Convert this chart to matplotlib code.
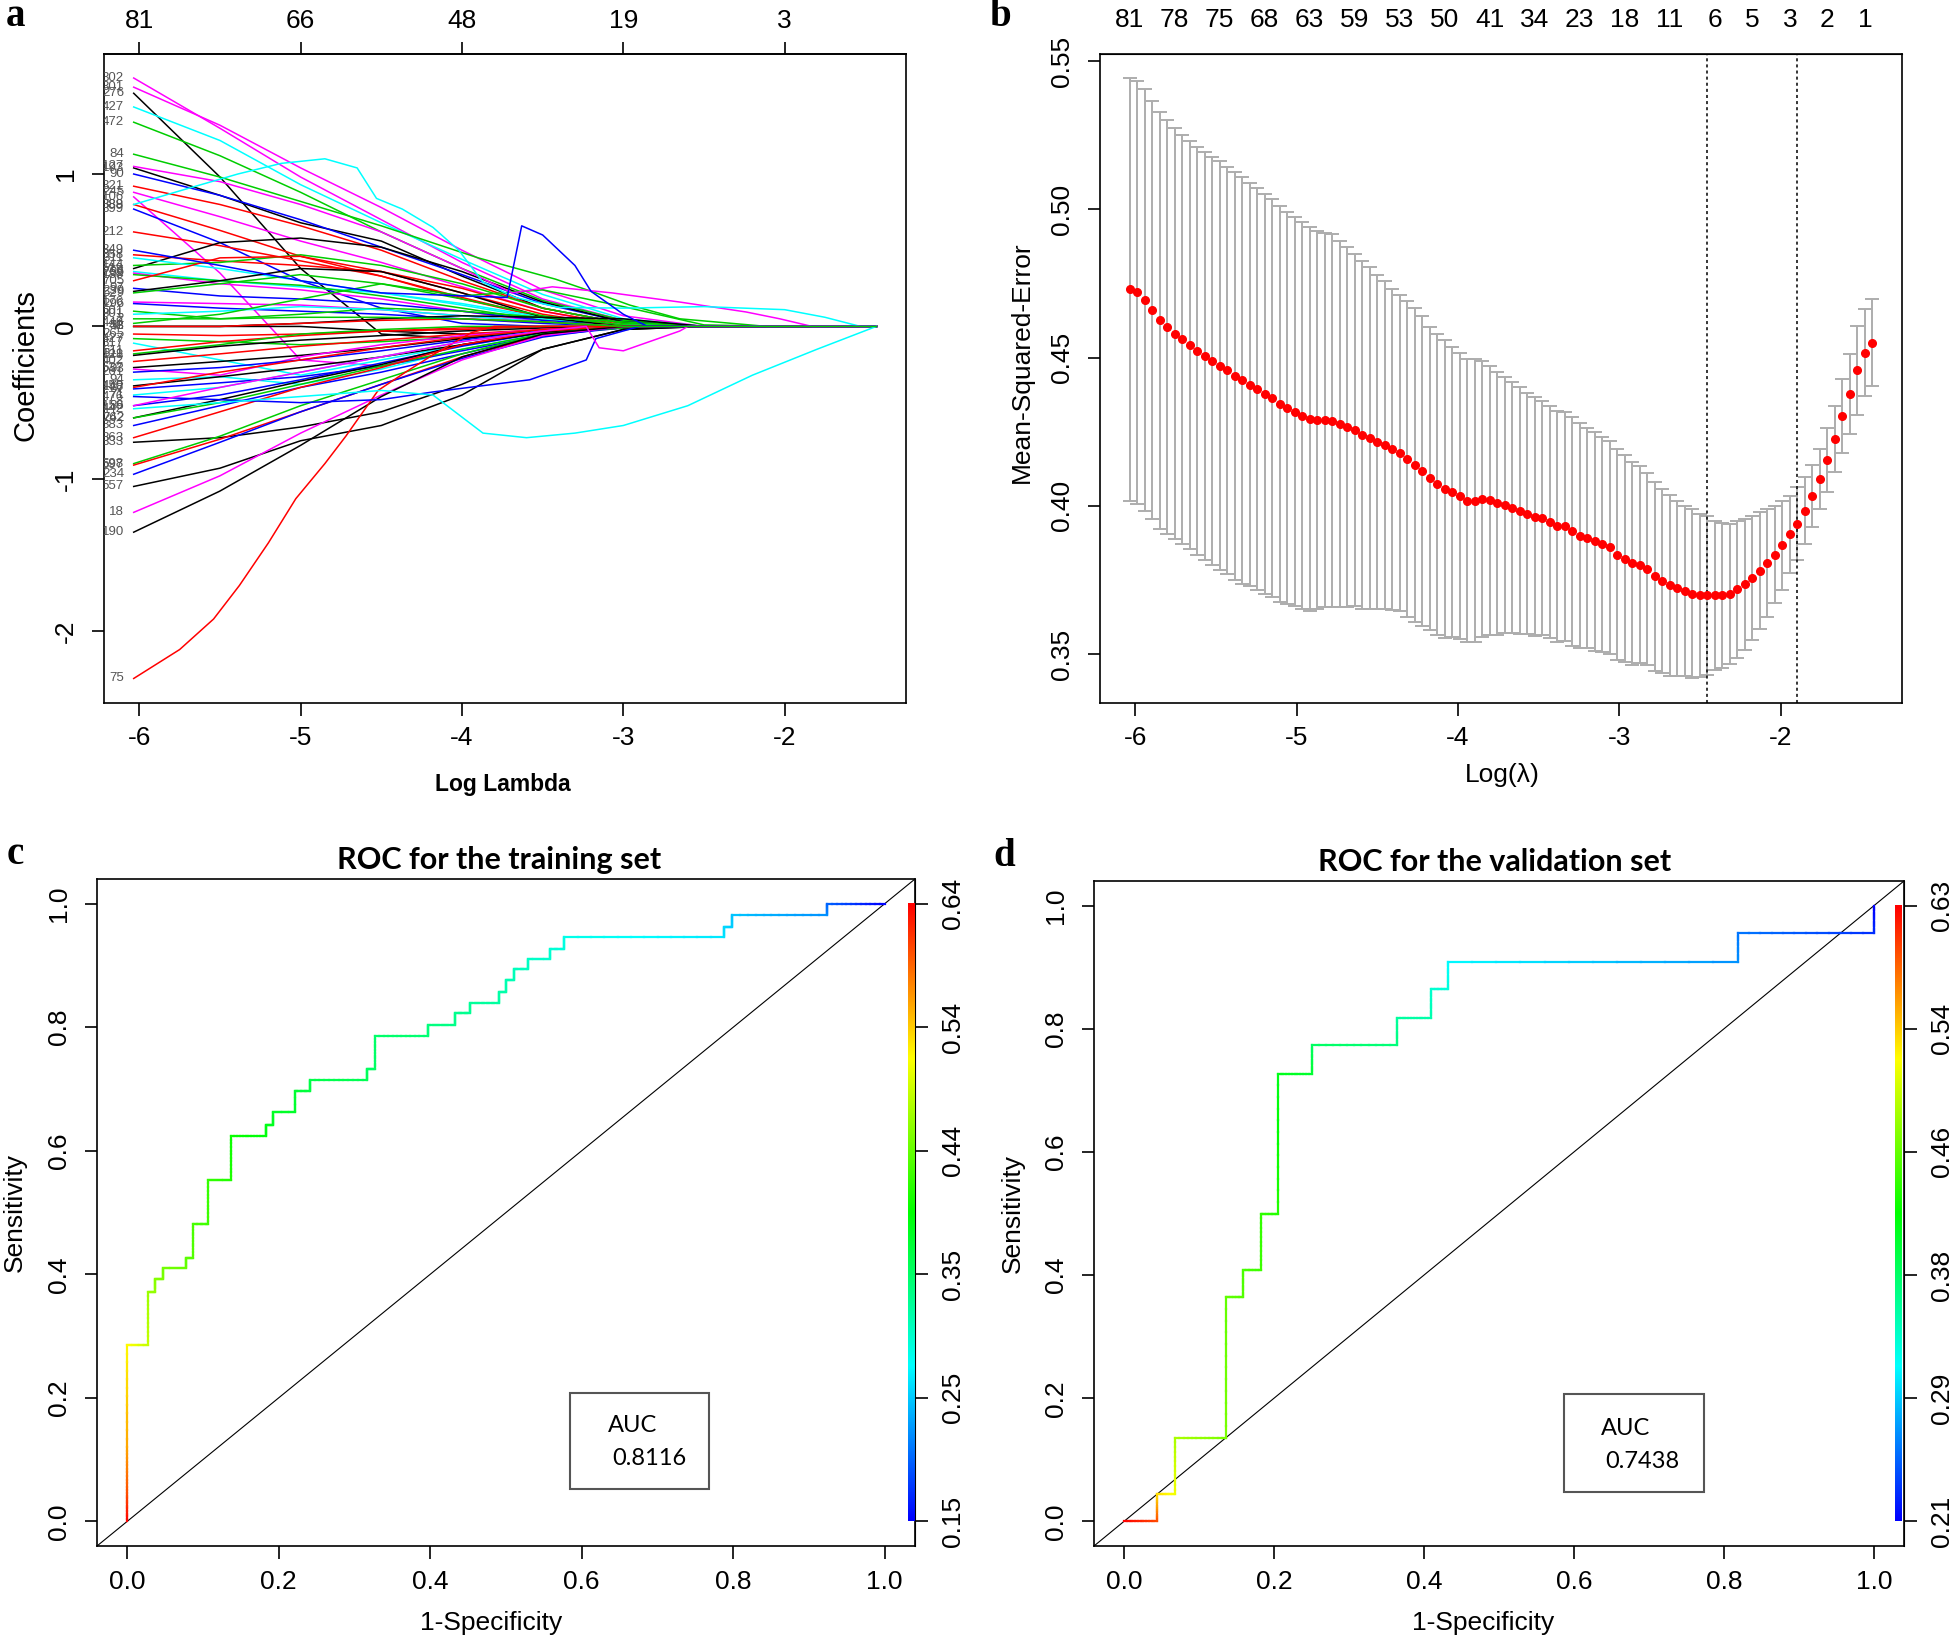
import numpy as np
import matplotlib
matplotlib.use("Agg")
import matplotlib.pyplot as plt
from matplotlib.collections import LineCollection
from matplotlib.colors import ListedColormap, Normalize, hsv_to_rgb
from matplotlib.patches import Rectangle

plt.rcParams['font.family'] = ['Liberation Sans', 'DejaVu Sans']
plt.rcParams['axes.unicode_minus'] = False

# ---------------- panel a: lasso coefficient paths ----------------
coef_knots = [-6.035, -5.5, -5.0, -4.5, -4.0, -3.5, -3.0, -2.5, -2.0, -1.432]
path_colors = ['m', 'm', 'k', 'c', 'g', 'k', 'b', 'r', 'm', 'm',
               'r', 'b', 'r', 'r', 'k', 'g', 'c', 'c', 'm', 'g',
               'r', 'b', 'k', 'g', 'm', 'b', 'g', 'c', 'g', 'k',
               'k', 'r', 'r', 'g', 'c', 'r', 'g', 'k', 'r', 'k',
               'm', 'b', 'c', 'k', 'r', 'b', 'c', 'b', 'k', 'g',
               'b', 'r', 'k', 'g', 'r', 'b', 'k', 'm', 'k']
path_labels = ['302', '301', '276', '427', '472', '193', '90', '321', '245', '106',
               '388', '399', '212', '358', '519', '144', '311', '766', '39', '188',
               '705', '97', '239', '629', '176', '296', '601', '301', '448', '33',
               '41', '58', '265', '427', '317', '611', '511', '128', '402', '537',
               '93', '261', '94', '450', '148', '67', '71', '86', '742', '262',
               '383', '363', '333', '598', '597', '234', '557', '18', '190']
path_values = [
    [1.63, 1.30, 0.98, 0.70, 0.42, 0.18, 0.04, 0, 0, 0],
    [1.57, 1.32, 1.04, 0.78, 0.50, 0.24, 0.07, 0, 0, 0],
    [1.53, 0.98, 0.38, -0.05, -0.08, -0.02, 0, 0, 0, 0],
    [1.44, 1.22, 0.93, 0.68, 0.44, 0.21, 0.05, 0, 0, 0],
    [1.34, 1.12, 0.88, 0.62, 0.38, 0.17, 0.04, 0, 0, 0],
    [1.04, 0.86, 0.68, 0.56, 0.33, 0.12, 0.02, 0, 0, 0],
    [1.00, 0.86, 0.70, 0.52, 0.34, 0.15, 0.03, 0, 0, 0],
    [0.92, 0.80, 0.66, 0.50, 0.30, 0.12, 0.02, 0, 0, 0],
    [0.88, 0.72, 0.56, 0.42, 0.26, 0.10, 0, 0, 0, 0],
    [0.85, 0.35, -0.22, -0.26, -0.12, -0.02, 0, 0, 0, 0],
    [0.80, 0.63, 0.46, 0.33, 0.18, 0.06, 0, 0, 0, 0],
    [0.77, 0.55, 0.30, 0.12, 0.02, 0, 0, 0, 0, 0],
    [0.62, 0.53, 0.43, 0.33, 0.19, 0.06, 0, 0, 0, 0],
    [0.47, 0.43, 0.40, 0.36, 0.25, 0.10, 0.01, 0, 0, 0],
    [0.38, 0.55, 0.58, 0.52, 0.36, 0.16, 0.03, 0, 0, 0],
    [0.40, 0.42, 0.47, 0.40, 0.28, 0.12, 0.02, 0, 0, 0],
    [0.45, 0.38, 0.30, 0.22, 0.15, 0.06, 0.01, 0, 0, 0],
    [0.36, 0.30, 0.26, 0.22, 0.14, 0.05, 0, 0, 0, 0],
    [0.35, 0.28, 0.24, 0.18, 0.10, 0.03, 0, 0, 0, 0],
    [0.34, 0.30, 0.27, 0.20, 0.12, 0.04, 0, 0, 0, 0],
    [0.30, 0.45, 0.46, 0.36, 0.22, 0.08, 0, 0, 0, 0],
    [0.25, 0.20, 0.18, 0.15, 0.10, 0.04, 0, 0, 0, 0],
    [0.23, 0.30, 0.38, 0.36, 0.22, 0.06, 0, 0, 0, 0],
    [0.22, 0.28, 0.34, 0.28, 0.18, 0.07, 0.01, 0, 0, 0],
    [0.16, 0.15, 0.14, 0.11, 0.07, 0.03, 0, 0, 0, 0],
    [0.15, 0.12, 0.10, 0.08, 0.05, 0.02, 0, 0, 0, 0],
    [0.10, 0.05, 0.08, 0.12, 0.10, 0.06, 0.03, 0, 0, 0],
    [0.08, 0.10, 0.13, 0.11, 0.07, 0.03, 0, 0, 0, 0],
    [0.02, 0.08, 0.18, 0.28, 0.20, 0.24, 0.13, 0.01, 0, 0],
    [0, 0, 0.02, 0.05, 0.07, 0.06, 0.05, 0, 0, 0],
    [0, 0, 0, -0.03, -0.05, -0.03, 0, 0, 0, 0],
    [0, 0, 0.02, 0.04, 0.05, 0.03, 0, 0, 0, 0],
    [-0.05, -0.06, -0.05, -0.03, -0.02, 0, 0, 0, 0, 0],
    [-0.08, -0.10, -0.12, -0.10, -0.07, -0.03, 0, 0, 0, 0],
    [-0.11, -0.22, -0.32, -0.22, -0.12, -0.04, 0, 0, 0, 0],
    [-0.16, -0.10, -0.06, -0.03, -0.01, 0, 0, 0, 0, 0],
    [-0.18, -0.12, -0.05, -0.02, 0, 0, 0, 0, 0, 0],
    [-0.19, -0.13, -0.09, -0.06, -0.03, -0.01, 0, 0, 0, 0],
    [-0.23, -0.18, -0.13, -0.09, -0.05, -0.02, 0, 0, 0, 0],
    [-0.27, -0.23, -0.19, -0.14, -0.08, -0.03, 0, 0, 0, 0],
    [-0.28, -0.32, -0.20, -0.12, -0.06, -0.02, 0, 0, 0, 0],
    [-0.30, -0.27, -0.22, -0.16, -0.09, -0.03, 0, 0, 0, 0],
    [-0.35, -0.33, -0.38, -0.28, -0.15, -0.05, 0, 0, 0, 0],
    [-0.39, -0.33, -0.27, -0.20, -0.12, -0.04, -0.01, 0, 0, 0],
    [-0.40, -0.30, -0.22, -0.14, -0.07, -0.02, 0, 0, 0, 0],
    [-0.41, -0.37, -0.33, -0.26, -0.16, -0.06, -0.01, 0, 0, 0],
    [-0.45, -0.40, -0.30, -0.20, -0.10, -0.03, 0, 0, 0, 0],
    [-0.52, -0.45, -0.35, -0.24, -0.13, -0.04, 0, 0, 0, 0],
    [-0.60, -0.48, -0.36, -0.25, -0.12, -0.04, 0, 0, 0, 0],
    [-0.60, -0.50, -0.38, -0.26, -0.15, -0.05, -0.01, 0, 0, 0],
    [-0.65, -0.52, -0.40, -0.30, -0.18, -0.06, 0, 0, 0, 0],
    [-0.73, -0.56, -0.40, -0.27, -0.12, -0.03, 0, 0, 0, 0],
    [-0.76, -0.73, -0.66, -0.56, -0.38, -0.15, -0.02, 0, 0, 0],
    [-0.90, -0.72, -0.52, -0.35, -0.18, -0.05, 0, 0, 0, 0],
    [-0.91, -0.74, -0.56, -0.38, -0.20, -0.06, 0, 0, 0, 0],
    [-0.97, -0.76, -0.56, -0.38, -0.21, -0.07, 0, 0, 0, 0],
    [-1.05, -0.93, -0.75, -0.65, -0.45, -0.15, -0.02, 0, 0, 0],
    [-1.22, -0.98, -0.70, -0.45, -0.22, -0.06, 0, 0, 0, 0],
    [-1.35, -1.08, -0.78, -0.46, -0.20, -0.05, 0, 0, 0, 0],
]

# paths with their own breakpoints
red75_x = [-6.035, -5.75, -5.54, -5.38, -5.2, -5.03, -4.85, -4.72, -4.52, -4.35, -4.17, -3.94, -3.8, -1.432]
red75_y = [-2.31, -2.12, -1.92, -1.70, -1.42, -1.13, -0.90, -0.72, -0.42, -0.30, -0.18, -0.04, 0.0, 0.0]
green84_x = [-6.035, -5.5, -5.0, -4.5, -3.9, -3.42, -3.17, -2.96, -2.65, -2.11, -1.432]
green84_y = [1.13, 0.98, 0.82, 0.66, 0.45, 0.31, 0.22, 0.14, 0.05, 0.0, 0.0]
magenta_x = [-6.035, -5.5, -5.0, -4.5, -4.0, -3.69, -3.44, -3.07, -2.65, -2.24, -2.03, -1.83, -1.432]
magenta_y = [1.05, 0.95, 0.80, 0.62, 0.38, 0.22, 0.26, 0.22, 0.16, 0.095, 0.05, 0.0, 0.0]
cyan_hi_x = [-6.035, -5.7, -5.39, -5.12, -4.85, -4.65, -4.53, -4.37, -4.18, -4.02, -3.87,
             -3.67, -3.40, -3.0, -2.5, -2.0, -1.75, -1.53, -1.432]
cyan_hi_y = [0.80, 0.905, 1.0, 1.07, 1.10, 1.04, 0.84, 0.77, 0.65, 0.50, 0.29,
             0.19, 0.125, 0.12, 0.13, 0.11, 0.06, 0.0, 0.0]
blue_spike_x = [-6.035, -5.5, -5.0, -4.5, -3.72, -3.63, -3.5, -3.3, -3.2, -3.0, -2.85, -1.432]
blue_spike_y = [0.50, 0.40, 0.30, 0.22, 0.19, 0.66, 0.60, 0.40, 0.23, 0.08, 0.0, 0.0]
blue_low_x = [-6.035, -5.0, -4.5, -4.18, -3.58, -3.23, -3.17, -2.9, -1.432]
blue_low_y = [-0.46, -0.50, -0.48, -0.43, -0.35, -0.22, -0.08, 0.0, 0.0]
magenta_dip_x = [-6.035, -5.5, -5.0, -4.5, -4.0, -3.5, -3.23, -3.15, -3.0, -2.65, -2.6, -1.432]
magenta_dip_y = [-0.52, -0.40, -0.30, -0.20, -0.10, -0.03, 0.0, -0.14, -0.16, -0.03, 0.0, 0.0]
cyan_low_x = [-6.035, -5.5, -5.0, -4.5, -4.18, -3.87, -3.6, -3.3, -3.0, -2.6, -2.2, -1.8, -1.432]
cyan_low_y = [-0.54, -0.50, -0.46, -0.42, -0.45, -0.70, -0.73, -0.70, -0.65, -0.52, -0.32, -0.15, 0.0]
green_last_y = [0.05, 0.05, 0.06, 0.06, 0.05, 0.03, 0.0, 0, 0, 0]

coef_top_pos = [-6, -5, -4, -3, -2]
coef_top_nz = ['81', '66', '48', '19', '3']

# ---------------- panel b: cross-validation curve ----------------
log_lambda = [
    -6.035, -5.989, -5.942, -5.896, -5.849, -5.803, -5.756, -5.710, -5.663, -5.617,
    -5.570, -5.524, -5.477, -5.431, -5.384, -5.338, -5.291, -5.245, -5.198, -5.152,
    -5.105, -5.059, -5.012, -4.966, -4.919, -4.873, -4.826, -4.780, -4.733, -4.687,
    -4.640, -4.594, -4.547, -4.501, -4.454, -4.408, -4.361, -4.315, -4.268, -4.222,
    -4.175, -4.129, -4.082, -4.036, -3.989, -3.943, -3.896, -3.850, -3.803, -3.757,
    -3.710, -3.664, -3.617, -3.571, -3.524, -3.478, -3.431, -3.385, -3.338, -3.292,
    -3.245, -3.199, -3.152, -3.106, -3.059, -3.013, -2.966, -2.920, -2.873, -2.827,
    -2.780, -2.734, -2.687, -2.641, -2.594, -2.548, -2.501, -2.455, -2.408, -2.362,
    -2.315, -2.269, -2.222, -2.176, -2.129, -2.083, -2.036, -1.990, -1.943, -1.897,
    -1.850, -1.804, -1.757, -1.711, -1.664, -1.618, -1.571, -1.525, -1.478, -1.432]
cv_mse = [
    0.4730, 0.4720, 0.4694, 0.4660, 0.4626, 0.4602, 0.4581, 0.4562, 0.4543, 0.4523,
    0.4507, 0.4489, 0.4473, 0.4457, 0.4438, 0.4423, 0.4409, 0.4394, 0.4378, 0.4364,
    0.4344, 0.4330, 0.4318, 0.4304, 0.4294, 0.4290, 0.4290, 0.4288, 0.4276, 0.4265,
    0.4255, 0.4240, 0.4229, 0.4216, 0.4205, 0.4191, 0.4177, 0.4157, 0.4137, 0.4117,
    0.4093, 0.4073, 0.4057, 0.4048, 0.4033, 0.4018, 0.4018, 0.4023, 0.4019, 0.4009,
    0.4004, 0.3994, 0.3984, 0.3974, 0.3964, 0.3960, 0.3945, 0.3931, 0.3931, 0.3914,
    0.3900, 0.3891, 0.3880, 0.3870, 0.3860, 0.3836, 0.3821, 0.3806, 0.3802, 0.3787,
    0.3762, 0.3747, 0.3733, 0.3723, 0.3713, 0.3703, 0.3699, 0.3699, 0.3699, 0.3699,
    0.3703, 0.3719, 0.3736, 0.3757, 0.3782, 0.3806, 0.3836, 0.3867, 0.3904, 0.3940,
    0.3984, 0.4033, 0.4091, 0.4155, 0.4226, 0.4304, 0.4378, 0.4457, 0.4517, 0.4551]
cv_sd = [
    0.0713, 0.0712, 0.0711, 0.0705, 0.0704, 0.0698, 0.0693, 0.0690, 0.0689, 0.0689,
    0.0688, 0.0688, 0.0689, 0.0687, 0.0689, 0.0686, 0.0680, 0.0678, 0.0675, 0.0671,
    0.0669, 0.0662, 0.0656, 0.0653, 0.0647, 0.0638, 0.0631, 0.0628, 0.0617, 0.0607,
    0.0593, 0.0586, 0.0575, 0.0562, 0.0553, 0.0542, 0.0533, 0.0533, 0.0529, 0.0523,
    0.0512, 0.0508, 0.0503, 0.0489, 0.0483, 0.0478, 0.0476, 0.0466, 0.0453, 0.0444,
    0.0431, 0.0424, 0.0417, 0.0407, 0.0403, 0.0394, 0.0392, 0.0390, 0.0387, 0.0385,
    0.0380, 0.0371, 0.0368, 0.0363, 0.0359, 0.0355, 0.0349, 0.0342, 0.0332, 0.0323,
    0.0320, 0.0309, 0.0305, 0.0295, 0.0285, 0.0285, 0.0275, 0.0268, 0.0251, 0.0244,
    0.0237, 0.0231, 0.0221, 0.0210, 0.0196, 0.0182, 0.0163, 0.0149, 0.0131, 0.0123,
    0.0112, 0.0104, 0.0100, 0.0107, 0.0112, 0.0124, 0.0135, 0.0149, 0.0148, 0.0148]
nz_idx = [0, 6, 12, 18, 24, 30, 36, 42, 48, 54, 60, 66, 72, 78, 83, 88, 93, 98]
nz_labels = ['81', '78', '75', '68', '63', '59', '53', '50', '41', '34',
             '23', '18', '11', '6', '5', '3', '2', '1']
idx_min = 77
idx_1se = 89

# ---------------- panels c/d: ROC curves ----------------
train_fpr = [0, 0, 0, 0, 0.027, 0.027, 0.037, 0.037, 0.047, 0.047, 0.077, 0.077,
             0.087, 0.087, 0.107, 0.107, 0.137, 0.137, 0.183, 0.183, 0.193, 0.193,
             0.221, 0.221, 0.241, 0.241, 0.317, 0.317, 0.327, 0.327, 0.397, 0.397,
             0.433, 0.433, 0.452, 0.452, 0.491, 0.491, 0.500, 0.500, 0.510, 0.510,
             0.529, 0.529, 0.558, 0.558, 0.577, 0.577, 0.788, 0.788, 0.798, 0.798,
             0.924, 0.924, 1.0]
train_tpr = [0, 0.05, 0.12, 0.285, 0.285, 0.372, 0.372, 0.392, 0.392, 0.41, 0.41, 0.427,
             0.427, 0.481, 0.481, 0.553, 0.553, 0.624, 0.624, 0.642, 0.642, 0.662,
             0.662, 0.696, 0.696, 0.714, 0.714, 0.732, 0.732, 0.785, 0.785, 0.803,
             0.803, 0.823, 0.823, 0.839, 0.839, 0.857, 0.857, 0.877, 0.877, 0.894,
             0.894, 0.910, 0.910, 0.927, 0.927, 0.946, 0.946, 0.963, 0.963, 0.981,
             0.981, 1.0, 1.0]
train_cut = [0.64, 0.60, 0.56, 0.52, 0.49, 0.47, 0.465, 0.46, 0.455, 0.45, 0.445, 0.44,
             0.435, 0.43, 0.425, 0.42, 0.41, 0.40, 0.39, 0.385, 0.38, 0.378,
             0.375, 0.37, 0.365, 0.36, 0.355, 0.35, 0.348, 0.345, 0.34, 0.335,
             0.33, 0.328, 0.325, 0.322, 0.318, 0.315, 0.313, 0.31, 0.308, 0.305,
             0.303, 0.30, 0.297, 0.294, 0.29, 0.285, 0.26, 0.255, 0.25, 0.245,
             0.22, 0.20, 0.15]
train_cut_labels = ['0.15', '0.25', '0.35', '0.44', '0.54', '0.64']
train_auc = '0.8116'

valid_fpr = [0, 0.044, 0.044, 0.068, 0.068, 0.136, 0.136, 0.159, 0.159, 0.182, 0.182,
             0.205, 0.205, 0.250, 0.250, 0.364, 0.364, 0.409, 0.409, 0.432, 0.432,
             0.818, 0.818, 1.0, 1.0]
valid_tpr = [0, 0, 0.044, 0.044, 0.136, 0.136, 0.364, 0.364, 0.409, 0.409, 0.500,
             0.500, 0.727, 0.727, 0.773, 0.773, 0.818, 0.818, 0.864, 0.864, 0.909,
             0.909, 0.955, 0.955, 1.0]
valid_cut = [0.63, 0.60, 0.54, 0.52, 0.49, 0.47, 0.46, 0.455, 0.45, 0.445, 0.44,
             0.435, 0.41, 0.40, 0.38, 0.37, 0.355, 0.35, 0.335, 0.33, 0.315,
             0.27, 0.26, 0.23, 0.21]
valid_cut_labels = ['0.21', '0.29', '0.38', '0.46', '0.54', '0.63']
valid_auc = '0.7438'

# ---------------- style ----------------
R_COL = {'k': '#000000', 'r': '#FF0000', 'g': '#00CD00', 'b': '#0000FF',
         'c': '#00FFFF', 'm': '#FF00FF'}
FS = 19
W, H = 1960, 1645

fig = plt.figure(figsize=(W / 100, H / 100), dpi=100)


def px_axes(left, right, top, bottom):
    return fig.add_axes([left / W, 1 - bottom / H, (right - left) / W, (bottom - top) / H])


def r_range(lo, hi):
    pad = (hi - lo) * 0.04
    return lo - pad, hi + pad


def r_style(ax):
    for s in ax.spines.values():
        s.set_linewidth(1.2)
    ax.tick_params(direction='out', length=9, width=1.2, labelsize=FS, pad=8)
    ax.tick_params(axis='y', pad=10)


def rotate_y(ax):
    for lab in ax.get_yticklabels():
        lab.set_rotation(90)
        lab.set_va('center')


def coef_label(ax, x, y, text):
    # variable numbers sit left of the path start and get clipped by the frame
    ax.text(x - 0.06, y, text, ha='right', va='center', fontsize=9.5,
            color='#555555', clip_on=True)


# ---- a ----
ax = px_axes(104, 906, 54, 702.5)
all_vals = np.concatenate([np.ravel(path_values), red75_y, cyan_low_y])
ax.set_xlim(*r_range(coef_knots[0], coef_knots[-1]))
ax.set_ylim(*r_range(all_vals.min(), all_vals.max()))

for col, lab, vals in zip(path_colors, path_labels, path_values):
    ax.plot(coef_knots, vals, color=R_COL[col], lw=1.1)
    coef_label(ax, coef_knots[0], vals[0], lab)

specials = [(red75_x, red75_y, 'r', '75'), (green84_x, green84_y, 'g', '84'),
            (magenta_x, magenta_y, 'm', '127'), (cyan_hi_x, cyan_hi_y, 'c', '389'),
            (blue_spike_x, blue_spike_y, 'b', '349'), (blue_low_x, blue_low_y, 'b', '476'),
            (magenta_dip_x, magenta_dip_y, 'm', '159'), (cyan_low_x, cyan_low_y, 'c', '442'),
            (coef_knots, green_last_y, 'g', '2')]
for xs, ys, col, lab in specials:
    ax.plot(xs, ys, color=R_COL[col], lw=1.1)
    coef_label(ax, xs[0], ys[0], lab)

ax.set_xticks([-6, -5, -4, -3, -2])
ax.set_xticklabels(['-6', '-5', '-4', '-3', '-2'])
ax.set_yticks([-2, -1, 0, 1])
ax.set_yticklabels(['-2', '-1', '0', '1'])
r_style(ax)
rotate_y(ax)
top = ax.secondary_xaxis('top')
top.set_xticks(coef_top_pos)
top.set_xticklabels(coef_top_nz)
top.tick_params(direction='out', length=9, width=1.2, labelsize=FS, pad=6)
top.spines['top'].set_linewidth(1.2)
ax.text(0.497, -0.126, 'Log Lambda', transform=ax.transAxes, ha='center', va='center',
        fontsize=16.5, fontweight='bold')
ax.text(-0.098, 0.52, 'Coefficients', transform=ax.transAxes, ha='center', va='center',
        fontsize=21, rotation=90)

# ---- b ----
ax = px_axes(1100, 1902, 54, 702.5)
mse = np.array(cv_mse)
sd = np.array(cv_sd)
ax.set_xlim(*r_range(min(log_lambda), max(log_lambda)))
ax.set_ylim(*r_range((mse - sd).min(), (mse + sd).max()))
ax.errorbar(log_lambda, mse, yerr=sd, fmt='none', ecolor='#ADADAD', elinewidth=1.4,
            capsize=5, capthick=1.4)
ax.plot(log_lambda, mse, 'o', color='red', ms=5.5, mec='red', zorder=3)
for i in (idx_min, idx_1se):
    ax.axvline(log_lambda[i], color='black', lw=1.1, ls=(0, (2, 2)))
ax.set_xticks([-6, -5, -4, -3, -2])
ax.set_xticklabels(['-6', '-5', '-4', '-3', '-2'])
ax.set_yticks([0.35, 0.40, 0.45, 0.50, 0.55])
ax.set_yticklabels(['0.35', '0.40', '0.45', '0.50', '0.55'])
r_style(ax)
rotate_y(ax)
top = ax.secondary_xaxis('top')
top.set_xticks([log_lambda[i] for i in nz_idx])
top.set_xticklabels(nz_labels)
top.tick_params(length=0, labelsize=FS, pad=16)
ax.text(0.502, -0.112, 'Log(\u03bb)', transform=ax.transAxes, ha='center', va='center',
        fontsize=FS)
ax.text(-0.098, 0.524, 'Mean-Squared-Error', transform=ax.transAxes, ha='center',
        va='center', fontsize=FS, rotation=90)

# ---- c, d ----
hues = np.linspace(4 / 6, 0, 256)
rocr_cmap = ListedColormap(hsv_to_rgb(np.column_stack([hues, np.ones(256), np.ones(256)])))


def roc_panel(box, fpr, tpr, cut, cut_labels, title, auc, bar_x, auc_box, title_x, xlab_x):
    ax = px_axes(*box)
    ax.axline((0, 0), slope=1, color='black', lw=0.8)
    norm = Normalize(min(cut), max(cut))
    segs, vals = [], []
    for i in range(len(fpr) - 1):
        xs = np.linspace(fpr[i], fpr[i + 1], 13)
        ys = np.linspace(tpr[i], tpr[i + 1], 13)
        cs = np.linspace(cut[i], cut[i + 1], 13)
        for j in range(12):
            segs.append([(xs[j], ys[j]), (xs[j + 1], ys[j + 1])])
            vals.append((cs[j] + cs[j + 1]) / 2)
    lc = LineCollection(segs, cmap=rocr_cmap, norm=norm, linewidths=1.6, capstyle='projecting')
    lc.set_array(np.array(vals))
    ax.add_collection(lc)
    grad = np.linspace(0, 1, 256).reshape(-1, 1)
    ax.imshow(grad, extent=(bar_x[0], bar_x[1], 0, 1), origin='lower', cmap=rocr_cmap,
              aspect='auto', zorder=3)
    ax.set_xlim(-0.04, 1.04)
    ax.set_ylim(-0.04, 1.04)
    ticks = [0, 0.2, 0.4, 0.6, 0.8, 1.0]
    ax.set_xticks(ticks)
    ax.set_xticklabels(['0.0', '0.2', '0.4', '0.6', '0.8', '1.0'])
    ax.set_yticks(ticks)
    ax.set_yticklabels(['0.0', '0.2', '0.4', '0.6', '0.8', '1.0'])
    r_style(ax)
    rotate_y(ax)
    right = ax.secondary_yaxis('right')
    right.set_yticks(ticks)
    right.set_yticklabels(cut_labels)
    right.tick_params(direction='out', length=9, width=1.2, labelsize=FS, pad=10)
    for lab in right.get_yticklabels():
        lab.set_rotation(90)
        lab.set_va('center')
    x0, y0, x1, y1 = auc_box
    ax.add_patch(Rectangle((x0, y0), x1 - x0, y1 - y0, fill=False, ec='#555555', lw=1.5))
    ax.text(x0 + 0.05, y0 + 0.103, 'AUC', fontsize=17, family='Lato', va='center')
    ax.text(x0 + 0.056, y0 + 0.05, auc, fontsize=17, family='Lato', va='center')
    ax.text(title_x, 1.028, title, transform=ax.transAxes, ha='center', va='center',
            fontsize=22, family='Lato', fontweight='bold')
    ax.text(xlab_x, -0.116, '1-Specificity', transform=ax.transAxes, ha='center',
            va='center', fontsize=FS)
    ax.text(-0.1, 0.5, 'Sensitivity', transform=ax.transAxes, ha='center', va='center',
            fontsize=FS, rotation=90)


roc_panel((97, 915, 879, 1546), train_fpr, train_tpr, train_cut, train_cut_labels,
          'ROC for the training set', train_auc, (1.031, 1.040), (0.584, 0.052, 0.768, 0.208),
          0.491, 0.482)
roc_panel((1094, 1904, 881, 1546), valid_fpr, valid_tpr, valid_cut, valid_cut_labels,
          'ROC for the validation set', valid_auc, (1.028, 1.037), (0.586, 0.048, 0.773, 0.207),
          0.494, 0.48)

# panel letters
for lx, ly, letter in [(15, 17, 'a'), (1000, 17, 'b'), (15, 854, 'c'), (1004, 857, 'd')]:
    fig.text(lx / W, 1 - ly / H, letter, ha='center', va='center', fontsize=28,
             family='Liberation Serif', fontweight='bold')

fig.savefig('out.png', dpi=100)
